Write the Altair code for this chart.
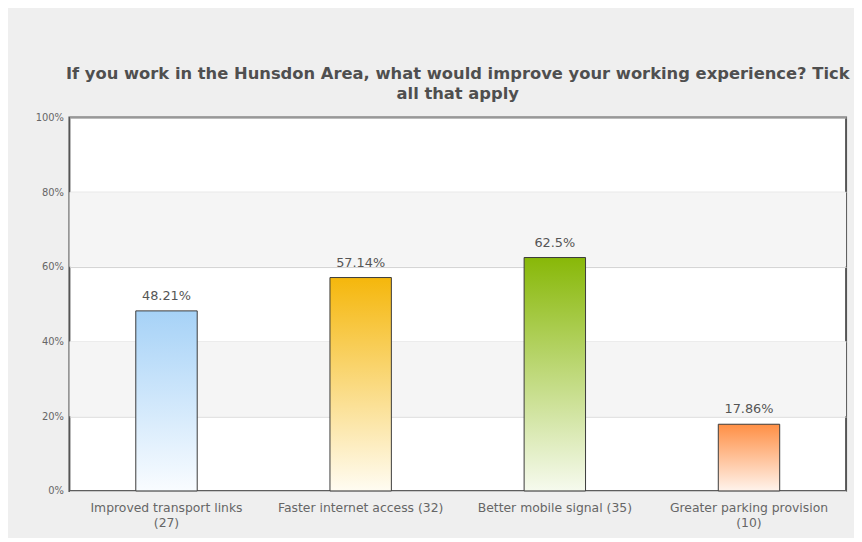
import altair as alt
import pandas as pd

categories = ["Improved transport links", "Faster internet access",
              "Better mobile signal", "Greater parking provision"]
counts = [27, 32, 35, 10]
percents = [48.21, 57.14, 62.5, 17.86]
pct_labels = ["48.21%", "57.14%", "62.5%", "17.86%"]
top_colors = ["#a6d2f7", "#f5b70c", "#88b808", "#ff8f45"]
bottom_colors = ["#f9fcff", "#fffcf2", "#f6faee", "#fff3ec"]
band_lo = [20, 60]
band_hi = [40, 80]
y_ticks = [0, 20, 40, 60, 80, 100]

keys = [f"{c}|({n})" for c, n in zip(categories, counts)]
df = pd.DataFrame({
    "key": keys,
    "pct": percents,
    "label": pct_labels,
})
bands = pd.DataFrame({"lo": band_lo, "hi": band_hi})

W, H = 784, 377

x_enc = alt.X("key:N", sort=keys, title=None,
              scale=alt.Scale(domain=keys, paddingInner=0, paddingOuter=0),
              axis=alt.Axis(
                  labelExpr="(datum.value == '%s' || datum.value == '%s') ? split(datum.value, '|') : replace(datum.value, '|', ' ')" % (keys[0], keys[3]),
                  labelAngle=0, labelFont="DejaVu Sans", labelFontSize=12.5,
                  labelColor="#666666", labelPadding=11, ticks=False,
                  domain=False, labelLineHeight=15, labelLimit=300))
y_scale = alt.Scale(domain=[0, 100], nice=False)

band_layer = alt.Chart(bands).mark_rect(color="#f5f5f5").encode(
    x=alt.value(0), x2=alt.value(W),
    y=alt.Y("lo:Q", scale=y_scale, title=None,
            axis=alt.Axis(values=y_ticks, labelExpr="datum.value + '%'",
                          labelFont="DejaVu Sans", labelFontSize=10,
                          labelColor="#666666", ticks=False, domain=False,
                          grid=True, gridColor="#d2d2d2", gridWidth=1,
                          labelPadding=6)),
    y2="hi:Q",
)

bar_layers = []
for i, k in enumerate(keys):
    grad = alt.Gradient(
        gradient="linear", x1=0, x2=0, y1=0, y2=1,
        stops=[alt.GradientStop(offset=0, color=top_colors[i]),
               alt.GradientStop(offset=1, color=bottom_colors[i])])
    bar_layers.append(
        alt.Chart(df).transform_filter(alt.datum.key == k)
        .mark_bar(size=62, color=grad, stroke="#3a3a3a", strokeWidth=1)
        .encode(x=x_enc, y=alt.Y("pct:Q", scale=y_scale))
    )

text_layer = alt.Chart(df).mark_text(
    dy=-8, font="DejaVu Sans", fontSize=13, color="#555555", baseline="bottom"
).encode(x=x_enc, y=alt.Y("pct:Q", scale=y_scale), text="label:N")

chart = alt.layer(band_layer, *bar_layers, text_layer).properties(
    width=W, height=H,
    title=alt.TitleParams(
        ["If you work in the Hunsdon Area, what would improve your working experience? Tick",
         "all that apply"],
        font="DejaVu Sans", fontSize=16.5, fontWeight="bold", color="#4f4f4f",
        anchor="middle", offset=10, lineHeight=20),
    padding={"left": 62, "top": 108, "right": 8, "bottom": 45},
    autosize=alt.AutoSizeParams(type="none"),
    background="#efefef",
).configure_view(
    fill="white", stroke="#555555", strokeWidth=2
)

chart.save("out.html", embed_options={"renderer": "svg", "actions": False})
